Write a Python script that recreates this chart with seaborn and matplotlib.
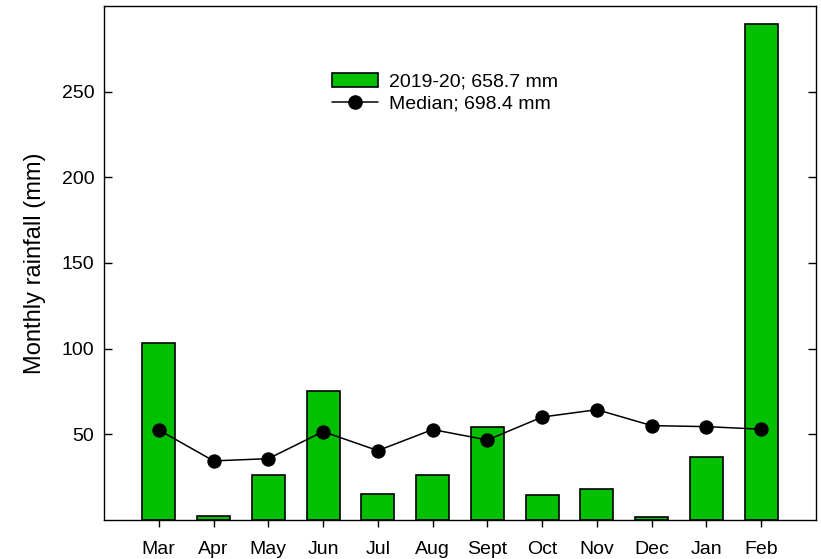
import matplotlib
matplotlib.use("Agg")
import matplotlib.pyplot as plt
import seaborn as sns
import pandas as pd
from matplotlib.patches import Patch
from matplotlib.lines import Line2D

months = ["Mar", "Apr", "May", "Jun", "Jul", "Aug", "Sept", "Oct", "Nov", "Dec", "Jan", "Feb"]
rain_2019_20 = [103.0, 2.5, 26.4, 75.1, 15.3, 26.4, 54.2, 14.2, 17.9, 1.5, 36.9, 289.2]
rain_median = [52.5, 34.4, 35.7, 51.5, 40.4, 52.7, 46.6, 60.0, 64.3, 55.0, 54.4, 52.9]
yticks = [50, 100, 150, 200, 250]
season_label = "2019-20; 658.7 mm"
median_label = "Median; 698.4 mm"

sns.set_style("ticks")
plt.rcParams["font.family"] = ["Liberation Sans", "DejaVu Sans"]
plt.rcParams.update({
    "font.size": 14,
    "text.color": "black",
    "axes.labelcolor": "black",
    "xtick.color": "black",
    "ytick.color": "black",
    "axes.edgecolor": "black",
})

df = pd.DataFrame({"month": months, "season": rain_2019_20, "median": rain_median})

fig = plt.figure(figsize=(8.21, 5.59), dpi=100)
ax = fig.add_axes([0.1267, 0.0701, 0.8672, 0.9192])

bar_green = "#00C000"
sns.barplot(data=df, x="month", y="season", order=months, color=bar_green,
            saturation=1, width=0.6, edgecolor="black", linewidth=1.2, ax=ax)
sns.pointplot(data=df, x="month", y="median", order=months, color="black",
              markers="o", linestyles="-", markersize=9.5, linewidth=1.1, ax=ax)

ax.set_xlim(-1, 12)
ax.set_ylim(0, 300)
ax.set_yticks(yticks)
ax.set_xlabel("")
ax.set_ylabel("Monthly rainfall (mm)", fontsize=17, labelpad=11)

for s in ax.spines.values():
    s.set_visible(True)
    s.set_linewidth(1.0)
    s.set_color("black")

ax.tick_params(axis="y", direction="in", length=5.5, width=1, left=True, right=True,
               labelsize=14, pad=7)
ax.tick_params(axis="x", direction="out", length=5, width=1, top=False,
               labelsize=14, pad=10)

handles = [
    Patch(facecolor=bar_green, edgecolor="black", linewidth=1.2),
    Line2D([0], [0], color="black", linewidth=1.1, marker="o", markersize=9.5),
]
ax.legend(handles, [season_label, median_label], loc="center",
          bbox_to_anchor=(0.479, 0.831), frameon=False, fontsize=14,
          handlelength=2.4, handleheight=0.7, handletextpad=0.57, labelspacing=0.22)

fig.savefig("out.png", dpi=100)
